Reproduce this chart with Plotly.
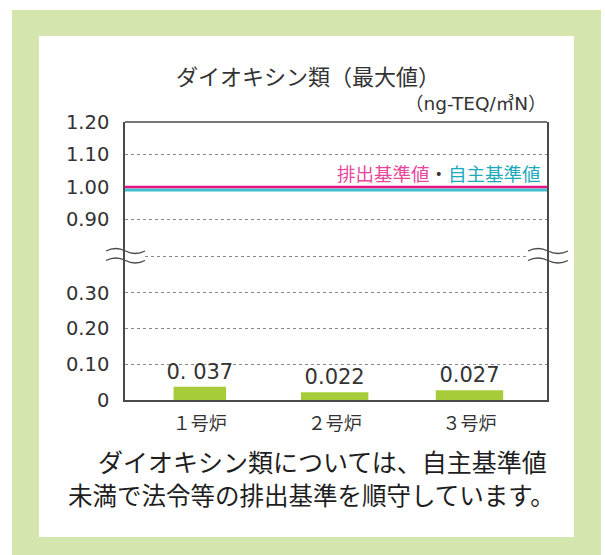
import plotly.graph_objects as go

# ---- data ----
furnaces = ["１号炉", "２号炉", "３号炉"]
dioxin_max = [0.037, 0.022, 0.027]
bar_labels = ["0. 037", "0.022", "0.027"]
emission_limit = 1.00      # 排出基準値
voluntary_limit = 1.00     # 自主基準値
lower_ticks = [0, 0.10, 0.20, 0.30]
lower_ticktext = ["0", "0.10", "0.20", "0.30"]
upper_ticks = [0.90, 1.00, 1.10, 1.20]
upper_ticktext = ["0.90", "1.00", "1.10", "1.20"]

# ---- layout geometry (pixels) ----
W, H = 605, 555
PL, PR, PT, PB = 125, 547, 122, 400
BRK = 256
pw, ph = PR - PL, PB - PT


def px(x):
    return (x - PL) / pw


def py(y):
    return (PB - y) / ph


split = py(BRK)

JP = "Noto Sans CJK JP"
NUM = "DejaVu Sans"
TXT = "#333333"
AX = "#4a4a4a"
PINK = "#e6147f"
CYAN = "#3cbfcf"

fig = go.Figure()
fig.add_trace(go.Bar(
    x=furnaces, y=dioxin_max, xaxis="x", yaxis="y",
    width=[0.39, 0.5, 0.5],
    marker=dict(color="#a6cc3a", line=dict(width=0)),
    text=bar_labels, textposition="outside", cliponaxis=False, constraintext="none",
    textfont=dict(family=NUM, size=21, color=TXT),
    hoverinfo="skip",
))
fig.add_trace(go.Scatter(
    x=furnaces, y=[emission_limit] * len(furnaces), xaxis="x", yaxis="y2",
    mode="lines", line=dict(width=0), opacity=0, hoverinfo="skip", showlegend=False,
))


def wave(x0, x1, yc, amp=2.5):
    w = x1 - x0
    s = f"M {px(x0)},{py(yc)} Q {px(x0 + w * 0.25)},{py(yc - 2 * amp)} {px(x0 + w * 0.5)},{py(yc)}"
    s += f" T {px(x1)},{py(yc)}"
    return s


shapes = [
    # background frame
    dict(type="rect", xref="paper", yref="paper", x0=px(12), x1=px(601), y0=py(570), y1=py(10),
         fillcolor="#d4e5ad", line=dict(width=0), layer="below"),
    dict(type="rect", xref="paper", yref="paper", x0=px(39), x1=px(574), y0=py(537), y1=py(36),
         fillcolor="white", line=dict(width=0), layer="below"),
    # top border
    dict(type="line", xref="paper", yref="paper", x0=0, x1=1, y0=1, y1=1,
         line=dict(color=AX, width=1.5)),
    # break dotted line
    dict(type="line", xref="paper", yref="paper", x0=px(145), x1=px(528), y0=py(BRK + 0.5), y1=py(BRK + 0.5),
         line=dict(color="#888888", width=1, dash="dot")),
    # limit lines
    dict(type="line", xref="paper", yref="y2", x0=0, x1=1,
         ysizemode="pixel", yanchor=voluntary_limit, y0=-3, y1=-3,
         line=dict(color=CYAN, width=3)),
    dict(type="line", xref="paper", yref="y2", x0=0, x1=1, y0=emission_limit, y1=emission_limit,
         line=dict(color=PINK, width=2.5)),
]
for (a, b) in [(106, 145), (528, 568)]:
    for yc in (251, 260.5):
        shapes.append(dict(type="path", xref="paper", yref="paper", path=wave(a, b, yc),
                           line=dict(color=AX, width=1.3)))

annotations = [
    dict(text="ダイオキシン類（最大値）", xref="paper", yref="paper", x=px(308), y=py(75),
         xanchor="center", yanchor="middle", showarrow=False, font=dict(family=JP, size=22, color=TXT)),
    dict(text="（ng-TEQ/㎥N）", xref="paper", yref="paper", x=px(549), y=py(104),
         xanchor="right", yanchor="middle", showarrow=False,
         font=dict(family=f"{NUM}, {JP}", size=18.5, color=TXT)),
    dict(text=f"<span style='color:#e8469a'>排出基準値</span>・<span style='color:#1aaabb'>自主基準値</span>",
         xref="paper", yref="paper", x=px(543), y=py(173), xanchor="right", yanchor="middle",
         showarrow=False, font=dict(family=JP, size=18.5, color=TXT)),
    dict(text="　ダイオキシン類については、自主基準値", xref="paper", yref="paper", x=px(71), y=py(461),
         xanchor="left", yanchor="middle", showarrow=False, font=dict(family=JP, size=25, color="#1e1e1e")),
    dict(text="未満で法令等の排出基準を順守しています。", xref="paper", yref="paper", x=px(66), y=py(494),
         xanchor="left", yanchor="middle", showarrow=False, font=dict(family=JP, size=24.5, color="#1e1e1e")),
]

grid = dict(showgrid=True, gridcolor="#888888", gridwidth=1, griddash="dot")

fig.update_layout(
    width=W, height=H, autosize=False,
    margin=dict(l=PL, r=W - PR, t=PT, b=H - PB, pad=0),
    paper_bgcolor="white", plot_bgcolor="rgba(0,0,0,0)",
    showlegend=False,
    xaxis=dict(domain=[0, 1], anchor="y", range=[-0.555, 2.575], showline=True, linecolor=AX, linewidth=1.5,
               ticks="", ticklabelstandoff=7, tickfont=dict(family=JP, size=18, color=TXT),
               showgrid=False, zeroline=False, fixedrange=True),
    yaxis=dict(domain=[0, split], anchor="x", range=[0, 0.4026], tickvals=lower_ticks, ticktext=lower_ticktext,
               showline=True, mirror=True, linecolor=AX, linewidth=1.5, ticks="", ticklabelstandoff=10,
               tickfont=dict(family=NUM, size=19.5, color=TXT), zeroline=False, **grid),
    yaxis2=dict(domain=[split, 1], anchor="x", range=[0.788, 1.2], tickvals=upper_ticks, ticktext=upper_ticktext,
                showline=True, mirror=True, linecolor=AX, linewidth=1.5, ticks="", ticklabelstandoff=10,
                tickfont=dict(family=NUM, size=19.5, color=TXT), zeroline=False, **grid),
    shapes=shapes, annotations=annotations,
)

fig.write_html("out.html")
